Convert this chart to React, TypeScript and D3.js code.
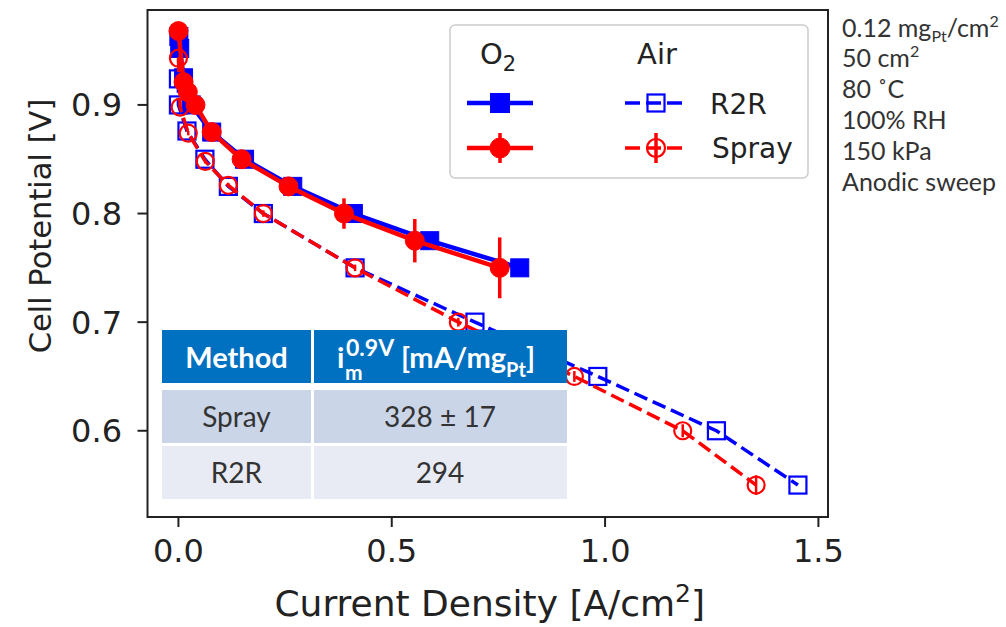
import React from 'react';
import * as d3 from 'd3';

const W = 1006;
const H = 627;

// Polarization data: current density [A/cm²] vs. cell potential [V]
const o2R2RCurrent = [0.001, 0.003, 0.012, 0.03, 0.078, 0.155, 0.268, 0.41, 0.589, 0.8];
const o2R2RPotential = [0.963, 0.952, 0.925, 0.9, 0.875, 0.85, 0.825, 0.8, 0.775, 0.75];

const o2SprayCurrent = [0.0, 0.012, 0.022, 0.04, 0.078, 0.148, 0.258, 0.388, 0.554, 0.753];
const o2SprayPotential = [0.968, 0.921, 0.912, 0.9, 0.875, 0.85, 0.825, 0.8, 0.775, 0.75];
const o2SprayError = [0.002, 0.002, 0.002, 0.003, 0.003, 0.004, 0.006, 0.014, 0.02, 0.028];

const airR2RCurrent = [0.0, 0.0, 0.02, 0.062, 0.117, 0.199, 0.414, 0.695, 0.983, 1.261, 1.452];
const airR2RPotential = [0.924, 0.9, 0.876, 0.85, 0.825, 0.8, 0.75, 0.7, 0.65, 0.6, 0.55];

const airSprayCurrent = [0.0, 0.004, 0.023, 0.063, 0.117, 0.199, 0.414, 0.656, 0.928, 1.182, 1.354];
const airSprayPotential = [0.943, 0.898, 0.874, 0.848, 0.826, 0.8, 0.75, 0.7, 0.65, 0.6, 0.55];
const airSprayError = [0.001, 0.001, 0.002, 0.002, 0.002, 0.003, 0.003, 0.004, 0.005, 0.006, 0.009];

const xTicks = [0.0, 0.5, 1.0, 1.5];
const yTicks = [0.6, 0.7, 0.8, 0.9];

const tableMethods = ['Spray', 'R2R'];
const tableActivity = ['328 \u00b1 17', '294'];

const BLUE = '#0000ff';
const RED = '#ff0000';
const INK = '#222222';

type Pt = { j: number; v: number; e: number };

const zipSeries = (j: number[], v: number[], e?: number[]): Pt[] =>
  j.map((jj, i) => ({ j: jj, v: v[i], e: e ? e[i] : 0 }));

const o2R2R = zipSeries(o2R2RCurrent, o2R2RPotential);
const o2Spray = zipSeries(o2SprayCurrent, o2SprayPotential, o2SprayError);
const airR2R = zipSeries(airR2RCurrent, airR2RPotential);
const airSpray = zipSeries(airSprayCurrent, airSprayPotential, airSprayError);

// Axes frame
const frame = { left: 147.5, right: 828, top: 10, bottom: 517 };

const x = d3.scaleLinear().domain([-0.0725, 1.5225]).range([frame.left, frame.right]);
const y = d3.scaleLinear().domain([0.5206, 0.9874]).range([frame.bottom, frame.top]);

const line = d3
  .line<Pt>()
  .x((d) => x(d.j))
  .y((d) => y(d.v));

const fmt = d3.format('.1f');

const MPL = 'DejaVu Sans, sans-serif';
const SLIDE = 'Lato, "Open Sans", sans-serif';

function Square({ cx, cy, s, filled, color }: { cx: number; cy: number; s: number; filled: boolean; color: string }) {
  return (
    <rect
      x={cx - s / 2}
      y={cy - s / 2}
      width={s}
      height={s}
      fill={filled ? color : 'none'}
      stroke={color}
      strokeWidth={filled ? 1 : 2.2}
    />
  );
}

function Dot({ cx, cy, r, filled, color }: { cx: number; cy: number; r: number; filled: boolean; color: string }) {
  return <circle cx={cx} cy={cy} r={r} fill={filled ? color : 'none'} stroke={color} strokeWidth={filled ? 1 : 2.2} />;
}

function Series({
  data,
  color,
  dashed,
  marker,
  filled,
}: {
  data: Pt[];
  color: string;
  dashed: boolean;
  marker: 'square' | 'circle';
  filled: boolean;
}) {
  return (
    <g>
      <path
        d={line(data) || ''}
        fill="none"
        stroke={color}
        strokeWidth={dashed ? 3.5 : 4.5}
        strokeDasharray={dashed ? '14,6' : undefined}
        strokeLinejoin="round"
      />
      {data.map((d, i) =>
        d.e > 0 ? (
          <line
            key={'e' + i}
            x1={x(d.j)}
            x2={x(d.j)}
            y1={y(d.v - d.e)}
            y2={y(d.v + d.e)}
            stroke={color}
            strokeWidth={dashed ? 2.5 : 3.5}
          />
        ) : null
      )}
      {data.map((d, i) =>
        marker === 'square' ? (
          <Square key={i} cx={x(d.j)} cy={y(d.v)} s={filled ? 18 : 17} filled={filled} color={color} />
        ) : (
          <Dot key={i} cx={x(d.j)} cy={y(d.v)} r={filled ? 9.5 : 8.5} filled={filled} color={color} />
        )
      )}
    </g>
  );
}

function LegendHandle({
  x0,
  x1,
  cy,
  color,
  dashed,
  marker,
  filled,
  errorBar,
}: {
  x0: number;
  x1: number;
  cy: number;
  color: string;
  dashed: boolean;
  marker: 'square' | 'circle';
  filled: boolean;
  errorBar: boolean;
}) {
  const cx = (x0 + x1) / 2;
  return (
    <g>
      <line
        x1={x0}
        x2={x1}
        y1={cy}
        y2={cy}
        stroke={color}
        strokeWidth={dashed ? 3.5 : 4.5}
        strokeDasharray={dashed ? '15,6' : undefined}
      />
      {errorBar && <line x1={cx} x2={cx} y1={cy - 15} y2={cy + 15} stroke={color} strokeWidth={3.5} />}
      {marker === 'square' ? (
        <Square cx={cx} cy={cy} s={filled ? 19 : 17} filled={filled} color={color} />
      ) : (
        <Dot cx={cx} cy={cy} r={filled ? 10 : 9} filled={filled} color={color} />
      )}
    </g>
  );
}

export default function App() {
  return (
    <svg
      width={W}
      height={H}
      viewBox={`0 0 ${W} ${H}`}
      style={{ position: 'absolute', left: 0, top: 0, background: '#fff' }}
    >
      <rect x={0} y={0} width={W} height={H} fill="#fff" />

      {/* data series */}
      <Series data={o2R2R} color={BLUE} dashed={false} marker="square" filled />
      <Series data={airR2R} color={BLUE} dashed marker="square" filled={false} />
      <Series data={o2Spray} color={RED} dashed={false} marker="circle" filled />
      <Series data={airSpray} color={RED} dashed marker="circle" filled={false} />

      {/* axes frame */}
      <rect
        x={frame.left}
        y={frame.top}
        width={frame.right - frame.left}
        height={frame.bottom - frame.top}
        fill="none"
        stroke={INK}
        strokeWidth={2}
      />

      {/* x axis */}
      {xTicks.map((t) => (
        <g key={'x' + t}>
          <line x1={x(t)} x2={x(t)} y1={frame.bottom} y2={frame.bottom + 10} stroke={INK} strokeWidth={2} />
          <text x={x(t)} y={562} textAnchor="middle" fontFamily={MPL} fontSize={32} fill={INK}>
            {fmt(t)}
          </text>
        </g>
      ))}
      <text x={(frame.left + frame.right) / 2 + 2} y={616} textAnchor="middle" fontFamily={MPL} fontSize={36} fill={INK}>
        Current Density [A/cm
        <tspan fontSize={25} dy={-14}>
          2
        </tspan>
        <tspan dy={14}>]</tspan>
      </text>

      {/* y axis */}
      {yTicks.map((t) => (
        <g key={'y' + t}>
          <line x1={frame.left - 10} x2={frame.left} y1={y(t)} y2={y(t)} stroke={INK} strokeWidth={2} />
          <text x={122} y={y(t) + 11.5} textAnchor="end" fontFamily={MPL} fontSize={32} fill={INK}>
            {fmt(t)}
          </text>
        </g>
      ))}
      <text
        transform="translate(51,226) rotate(-90)"
        textAnchor="middle"
        fontFamily={MPL}
        fontSize={30.5}
        fill={INK}
      >
        Cell Potential [V]
      </text>

      {/* legend */}
      <rect x={450} y={25} width={358} height={153} rx={5} fill="#fff" fillOpacity={0.8} stroke="#cccccc" strokeWidth={1.5} />
      <text x={498} y={64} textAnchor="middle" fontFamily={MPL} fontSize={29} fill={INK}>
        O<tspan fontSize={21} dy={7}>2</tspan>
      </text>
      <text x={657} y={64} textAnchor="middle" fontFamily={MPL} fontSize={29} fill={INK}>
        Air
      </text>
      <LegendHandle x0={467} x1={533} cy={103} color={BLUE} dashed={false} marker="square" filled errorBar={false} />
      <LegendHandle x0={467} x1={533} cy={148} color={RED} dashed={false} marker="circle" filled errorBar />
      <LegendHandle x0={625} x1={687} cy={103} color={BLUE} dashed marker="square" filled={false} errorBar={false} />
      <LegendHandle x0={625} x1={687} cy={148} color={RED} dashed marker="circle" filled={false} errorBar />
      <text x={710} y={114} fontFamily={MPL} fontSize={28} fill={INK}>
        R2R
      </text>
      <text x={712} y={158} fontFamily={MPL} fontSize={28} fill={INK}>
        Spray
      </text>

      {/* mass activity table */}
      <g fontFamily={SLIDE}>
        <rect x={162} y={330} width={149} height={53} fill="#0070c0" />
        <rect x={314} y={330} width={253} height={53} fill="#0070c0" />
        <text x={236.5} y={368} textAnchor="middle" fontSize={29} fontWeight="bold" fill="#fff">
          Method
        </text>
        <text x={337} y={368} fontSize={29} fontWeight="bold" fill="#fff">
          i
        </text>
        <text x={345} y={380} fontSize={21} fontWeight="bold" fill="#fff">
          m
        </text>
        <text x={346} y={356} fontSize={23} fontWeight="bold" fill="#fff">
          0.9V
        </text>
        <text x={401} y={368} fontSize={29} fontWeight="bold" fill="#fff">
          [mA/mg
          <tspan y={377} fontSize={20}>
            Pt
          </tspan>
          <tspan y={368} fontSize={29}>
            ]
          </tspan>
        </text>
        {tableMethods.map((m, i) => {
          const top = 390 + i * 56;
          const fill = i === 0 ? '#cbd5e8' : '#e8ebf4';
          return (
            <g key={m}>
              <rect x={162} y={top} width={149} height={53} fill={fill} />
              <rect x={314} y={top} width={253} height={53} fill={fill} />
              <text x={236.5} y={top + 37} textAnchor="middle" fontSize={28} fill="#333">
                {m}
              </text>
              <text x={440} y={top + 37} textAnchor="middle" fontSize={28} fill="#333">
                {tableActivity[i]}
              </text>
            </g>
          );
        })}
      </g>

      {/* test conditions */}
      <g fontFamily={SLIDE} fontSize={25} fill="#333">
        <text x={842} y={37}>
          0.12 mg<tspan fontSize={16} dy={5}>Pt</tspan>
          <tspan dy={-5}>/cm</tspan>
          <tspan fontSize={16} dy={-10}>2</tspan>
        </text>
        <text x={842} y={67}>
          50 cm<tspan fontSize={16} dy={-10}>2</tspan>
        </text>
        <text x={842} y={98}>80 {'\u02da'}C</text>
        <text x={842} y={129}>100% RH</text>
        <text x={842} y={160}>150 kPa</text>
        <text x={842} y={191}>Anodic sweep</text>
      </g>
    </svg>
  );
}
